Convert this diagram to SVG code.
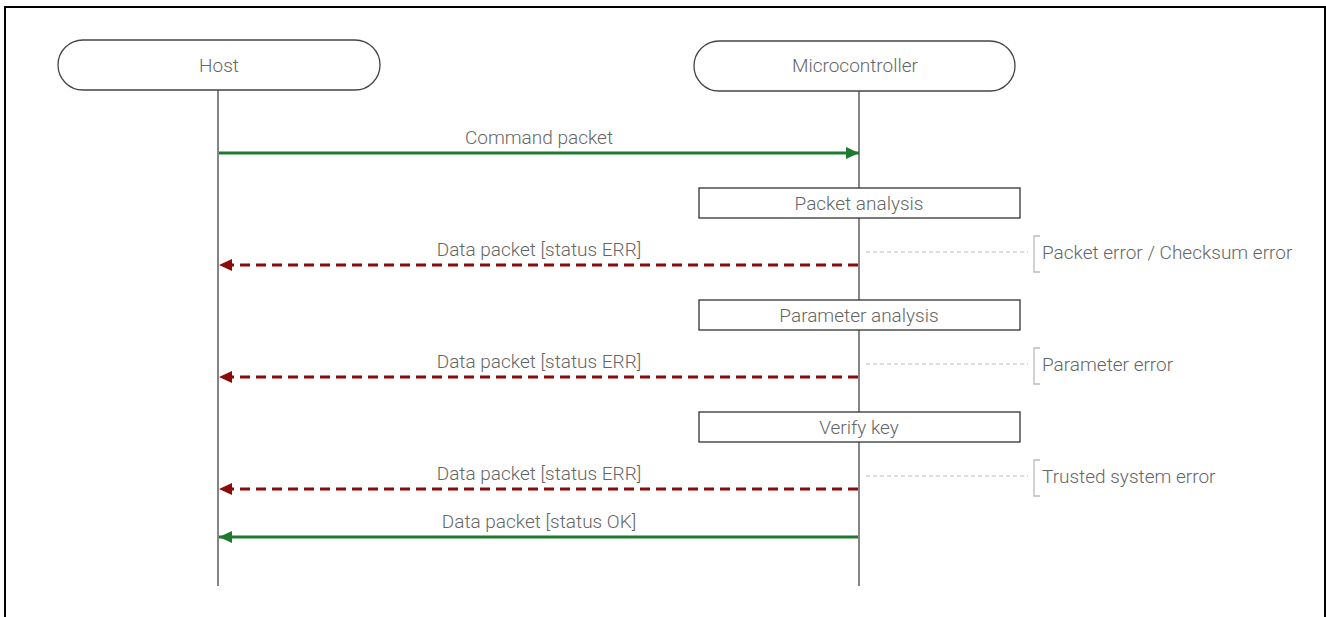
<svg xmlns="http://www.w3.org/2000/svg" width="1326" height="617" viewBox="0 0 1326 617">
<defs>
<style>
text{font-family:Roboto,"Liberation Sans",sans-serif;font-size:19px;fill:#666;font-weight:300}
.actor{fill:#fff;stroke:#444;stroke-width:1.3}
.life{stroke:#444;stroke-width:1.3}
.proc{fill:#fff;stroke:#333;stroke-width:1.3}
.ok{stroke:#1e7a2e;stroke-width:3;fill:none}
.err{stroke:#8b0a0a;stroke-width:3;fill:none;stroke-dasharray:10 6}
.note{stroke:#bbb;stroke-width:1;fill:none;stroke-dasharray:4 3}
.brk{stroke:#bbb;stroke-width:1.3;fill:none}
</style>
<marker id="ag" markerWidth="13" markerHeight="12" refX="13" refY="6" orient="auto" markerUnits="userSpaceOnUse"><path d="M0,0 L13,6 L0,12 z" fill="#1e7a2e"/></marker>
<marker id="ar" markerWidth="13" markerHeight="12" refX="13" refY="6" orient="auto" markerUnits="userSpaceOnUse"><path d="M0,0 L13,6 L0,12 z" fill="#8b0a0a"/></marker>
</defs>
<rect x="5" y="7" width="1320" height="640" fill="#fff" stroke="#000" stroke-width="2"/>
<g id="lifelines">
<line class="life" x1="218" y1="90" x2="218" y2="586"/>
<line class="life" x1="859" y1="91" x2="859" y2="586"/>
</g>
<g id="host"><rect class="actor" x="58" y="40" width="322" height="50" rx="25"/><text x="219" y="72" text-anchor="middle">Host</text></g>
<g id="mcu"><rect class="actor" x="694" y="41" width="321" height="50" rx="25"/><text x="855" y="72" text-anchor="middle">Microcontroller</text></g>
<g id="packet-analysis"><rect class="proc" x="699" y="188" width="321" height="30"/><text x="859" y="210" text-anchor="middle">Packet analysis</text></g>
<g id="parameter-analysis"><rect class="proc" x="699" y="300" width="321" height="30"/><text x="859" y="322" text-anchor="middle">Parameter analysis</text></g>
<g id="verify-key"><rect class="proc" x="699" y="412" width="321" height="30"/><text x="859" y="434" text-anchor="middle">Verify key</text></g>
<g id="note1"><path class="brk" d="M1040,236 H1034 V272 H1040"/><text x="1042" y="259">Packet error / Checksum error</text></g>
<g id="note2"><path class="brk" d="M1040,348 H1034 V384 H1040"/><text x="1042" y="371">Parameter error</text></g>
<g id="note3"><path class="brk" d="M1040,460 H1034 V496 H1040"/><text x="1042" y="483">Trusted system error</text></g>
<g id="connectors">
<line class="ok" x1="219" y1="153" x2="859" y2="153" marker-end="url(#ag)"/>
<text x="539" y="144" text-anchor="middle">Command packet</text>
<line class="note" x1="866" y1="252" x2="1028" y2="252"/>
<line class="err" x1="858" y1="265" x2="219" y2="265" marker-end="url(#ar)"/>
<text x="539" y="256" text-anchor="middle">Data packet [status ERR]</text>
<line class="note" x1="866" y1="364" x2="1028" y2="364"/>
<line class="err" x1="858" y1="377" x2="219" y2="377" marker-end="url(#ar)"/>
<text x="539" y="368" text-anchor="middle">Data packet [status ERR]</text>
<line class="note" x1="866" y1="476" x2="1028" y2="476"/>
<line class="err" x1="858" y1="489" x2="219" y2="489" marker-end="url(#ar)"/>
<text x="539" y="480" text-anchor="middle">Data packet [status ERR]</text>
<line class="ok" x1="858" y1="537" x2="219" y2="537" marker-end="url(#ag)"/>
<text x="539" y="528" text-anchor="middle">Data packet [status OK]</text>
</g>
</svg>
